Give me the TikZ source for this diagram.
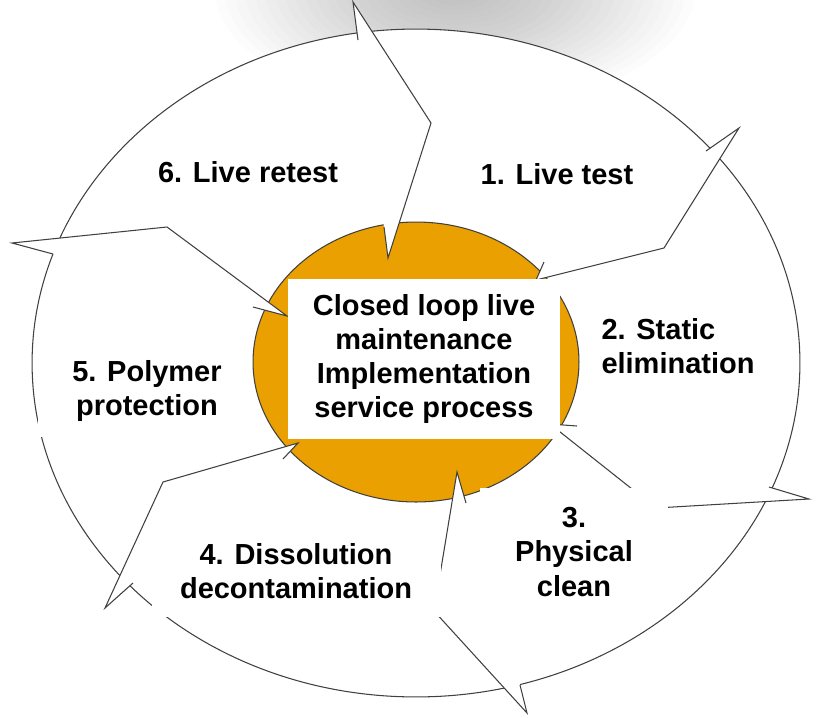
\documentclass[tikz,border=0pt]{standalone}
\usepackage{fontspec}
\setmainfont{Liberation Sans}
\definecolor{hub}{RGB}{233,160,0}
\tikzset{
  outline/.style={draw=black!75, line width=0.6pt},
  phase/.style={font=\bfseries\fontsize{16.5}{19.5}\selectfont, align=center, inner sep=0pt}
}

\begin{document}
\begin{tikzpicture}[x=0.02cm, y=-0.02cm]
  \useasboundingbox (0,0) rectangle (820,717);

  % soft shadow at the top
  \begin{scope}
    \clip (0,0) rectangle (820,717);
    \foreach \k in {1,...,24}
      \fill[black, opacity=0.013] (455,-10) ellipse [x radius=\k*0.2cm, y radius=\k*0.1cm];
  \end{scope}

  % outer ring and hub
  \filldraw[outline, fill=white] (416,363) ellipse [x radius=7.68cm, y radius=6.68cm];
  \filldraw[outline, fill=hub] (416,362) ellipse [x radius=3.26cm, y radius=2.8cm];

  % arrow heads between the phases
  \foreach \pa/\pb/\pc/\pd/\pe in {
      {358,40}/{353,2}/{431,123}/{388,258}/{384,227},
      {706,151}/{739,128}/{664,248}/{536,280}/{544,262},
      {769,487}/{809,499}/{656,508}/{550,424}/{577,426},
      {520,685}/{527,713}/{434,611}/{457,472}/{466,503},
      {133,583}/{105,608}/{163,482}/{298,443}/{283,459},
      {53,254}/{12,243}/{167,227}/{287,316}/{253,307}}{
    \fill[white] (\pa) -- (\pb) -- (\pc) -- (\pd) -- (\pe) -- cycle;
    \draw[outline] (\pa) -- (\pb) -- (\pc) -- (\pd) -- (\pe);
  }

  % label backgrounds
  \fill[white] (480,488) rectangle (668,608);
  \fill[white] (152,525) rectangle (441,617);
  \fill[white] (38,345) rectangle (250,437);

  % centre box
  \node[phase, fill=white, minimum width=5.44cm, minimum height=3.2cm] (centre) at (424,359)
    {Closed loop live\\maintenance\\Implementation\\service process};

  % phases
  \node[phase] (p1) at (557,174) {1. Live test};
  \node[phase, align=left] (p2) at (678,346) {2. Static\\elimination};
  \node[phase] (p3) at (574,552) {3.\\Physical\\clean};
  \node[phase] (p4) at (296,571) {4. Dissolution\\decontamination};
  \node[phase] (p5) at (147,391) {5. Polymer\\protection};
  \node[phase] (p6) at (248,172) {6. Live retest};
\end{tikzpicture}
\end{document}
